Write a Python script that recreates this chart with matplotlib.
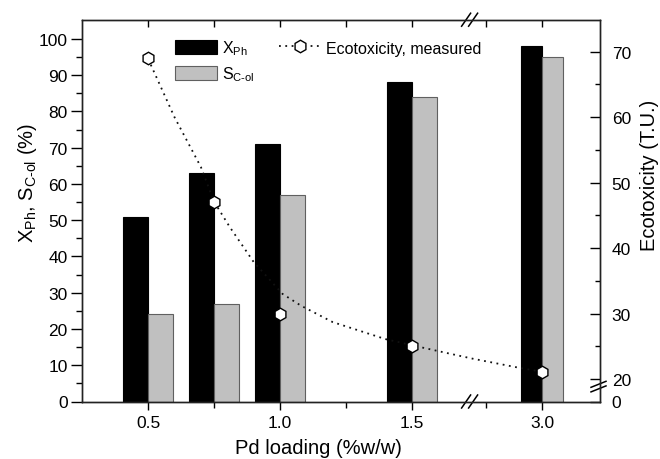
import numpy as np
import matplotlib
matplotlib.use('Agg')
import matplotlib.pyplot as plt
from matplotlib.lines import Line2D

plt.rcParams['font.family'] = ['Liberation Sans', 'DejaVu Sans']
plt.rcParams['mathtext.default'] = 'regular'

# data
loading = [0.5, 0.75, 1.0, 1.5, 3.0]
x_ph = [51, 63, 71, 88, 98]
s_col = [24, 27, 57, 84, 95]
eco_measured = [69, 47, 30, 25, 21]

# dotted trend line
curve_x = [0.5, 0.60, 0.70, 0.75, 0.81, 0.90, 1.01, 1.08, 1.20, 1.40, 1.53, 1.63, 2.693, 2.90, 3.0]
curve_y = [68.9, 60.0, 52.4, 47.1, 43.2, 37.9, 33.0, 31.2, 28.7, 26.1, 24.9, 24.0, 23.1, 21.7, 21.1]

major_x = [0.5, 1.0, 1.5, 3.0]
major_x_labels = ['0.5', '1.0', '1.5', '3.0']
minor_x = [0.75, 1.25, 2.75]

# broken x axis: 1.72 .. 2.68 squeezed out, narrower scale after the break
B0, B1, K, EPS = 1.72, 2.68, 0.856, 1e-3


def fwd_x(x):
    x = np.asarray(x, float)
    return np.where(x <= B0, x,
                    np.where(x < B1, B0 + (x - B0) * EPS,
                             B0 + (B1 - B0) * EPS + (x - B1) * K))


def inv_x(p):
    p = np.asarray(p, float)
    q1 = B0 + (B1 - B0) * EPS
    return np.where(p <= B0, p,
                    np.where(p < q1, B0 + (p - B0) / EPS, B1 + (p - q1) / K))


# broken right axis: 0..20 squeezed
KY = 0.172


def fwd_y(v):
    v = np.asarray(v, float)
    return np.where(v >= 20, v, 20 - (20 - v) * KY)


def inv_y(p):
    p = np.asarray(p, float)
    return np.where(p >= 20, p, 20 - (20 - p) / KY)


fig = plt.figure(figsize=(6.6, 4.6), dpi=100)
ax = fig.add_axes([82.3 / 660, 1 - 402.5 / 460, (600 - 82.3) / 660, (402.5 - 20.7) / 460])
ax2 = ax.twinx()

ax.set_xscale('function', functions=(fwd_x, inv_x))
ax.set_xlim(0.25, 3.257)
ax.set_ylim(0, 105.3)

w = 0.095
lx = np.array(loading)
b1 = ax.bar(lx - w / 2, x_ph, w, color='black', edgecolor='black', linewidth=0.8,
            label=r'X$_{Ph}$')
b2 = ax.bar(lx + w / 2, s_col, w, color='#c0c0c0', edgecolor='#606060', linewidth=0.8,
            label=r'S$_{C‐ol}$')

ax2.set_yscale('function', functions=(fwd_y, inv_y))
ax2.set_ylim(0, 74.9)
ax2.plot(curve_x, curve_y, color='#111111', lw=1.3, linestyle=(0, (1, 2.5)))
ax2.plot(loading, eco_measured, linestyle='none', marker='h', markersize=9,
         markerfacecolor='white', markeredgecolor='black', markeredgewidth=1.0)

# ticks
ax.set_xticks(major_x, major_x_labels)
ax.set_xticks(minor_x, minor=True)
ax.set_yticks(np.arange(0, 101, 10))
ax.set_yticks(np.arange(5, 101, 10), minor=True)
ax2.set_yticks([0, 20, 30, 40, 50, 60, 70])
ax2.set_yticks([25, 35, 45, 55, 65], minor=True)
ax2.set_yticklabels(['0', '20', '30', '40', '50', '60', '70'])

ax.tick_params(axis='y', which='major', direction='out', length=8, width=1, labelsize=12.5, pad=2.5)
ax.tick_params(axis='y', which='minor', direction='out', length=4.5, width=1)
ax.tick_params(axis='x', which='major', direction='out', length=6, width=1, labelsize=12.5, pad=3.5,
               top=False)
ax.tick_params(axis='x', which='minor', direction='out', length=4, width=1, top=False)
ax2.tick_params(axis='y', which='major', direction='in', length=7, width=1, labelsize=12.5, pad=8.4)
ax2.tick_params(axis='y', which='minor', direction='in', length=3.5, width=1)
ax2.xaxis.set_visible(True)
ax2.tick_params(axis='x', which='both', direction='in', length=5, width=1,
                top=True, bottom=False, labeltop=False, labelbottom=False)

for a in (ax, ax2):
    for s in a.spines.values():
        s.set_linewidth(1.0)
        s.set_color('#222222')

ax.set_xlabel('Pd loading (%w/w)', fontsize=14.5)
ax.xaxis.set_label_coords(0.457, -0.095)
ax.set_ylabel(r'X$_{Ph}$, S$_{C‐ol}$ (%)', fontsize=14.5)
ax.yaxis.set_label_coords(-0.083, 0.575)
ax2.set_ylabel('Ecotoxicity (T.U.)', fontsize=14.5)
ax2.yaxis.set_label_coords(1.077, 0.595)

# break marks
bx = ax.transAxes.inverted().transform(ax.transData.transform((B0, 0)))[0]
dx, dy = 4.5 / 517.7, 6.5 / 381.8
for yb in (0, 1):
    for off in (-3.5 / 517.7, 3.5 / 517.7):
        ax.plot([bx + off - dx, bx + off + dx], [yb - dy, yb + dy], color='black', lw=1.1,
                transform=ax.transAxes, clip_on=False)
for yc in (0.045, 0.033):
    ax.plot([1 - 9 / 517.7, 1 + 6 / 517.7], [yc - 3 / 381.8, yc + 3 / 381.8], color='black',
            lw=1.1, transform=ax.transAxes, clip_on=False)

eco_handle = Line2D([], [], color='#111111', lw=1.3, linestyle=(0, (1, 2.5)), marker='h',
                    markersize=9, markerfacecolor='white', markeredgecolor='black')
ax2.legend([b1, b2, eco_handle], [r'X$_{Ph}$', r'S$_{C‐ol}$', 'Ecotoxicity, measured'],
           ncol=2, frameon=False, fontsize=11.5, loc='upper left',
           bbox_to_anchor=(0.1515, 0.9884), handlelength=2.6, handleheight=1.0,
           handletextpad=0.35, columnspacing=1.5, labelspacing=0.45, borderpad=0.4)

fig.savefig('out.png', dpi=100)
